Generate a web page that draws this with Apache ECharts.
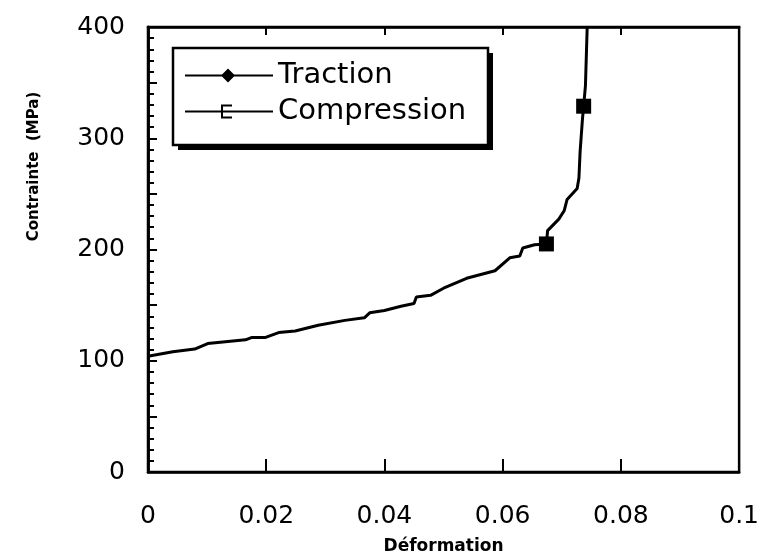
<!DOCTYPE html>
<html>
<head>
<meta charset="utf-8">
<script src="https://cdn.jsdelivr.net/npm/echarts@6/dist/echarts.min.js"></script>
<style>
  html, body { margin: 0; padding: 0; background: #fff; }
  #chart { width: 762px; height: 560px; }
</style>
</head>
<body>
<div id="chart"></div>
<script>
// Strain (Déformation) / stress (MPa) readings of the compression curve
const strain = [0, 0.0042, 0.0079, 0.0101, 0.0165, 0.0176, 0.0199, 0.0221, 0.0249, 0.0288,
  0.0333, 0.0366, 0.0375, 0.0400, 0.0428, 0.0450, 0.0454, 0.0478, 0.0500, 0.0539,
  0.0587, 0.0612, 0.0629, 0.0634, 0.0654, 0.0674, 0.0676, 0.0695, 0.0704, 0.0709,
  0.0726, 0.0729, 0.0731, 0.0735, 0.0737, 0.0740, 0.0743];
const stress = [104, 108, 110.5, 115.5, 118.8, 121, 121, 125.3, 126.8, 131.9,
  136.3, 138.6, 143.1, 145.2, 149, 151.4, 157.3, 158.8, 165.2, 174.1,
  180.9, 192.5, 194.2, 201.3, 204.3, 205, 217, 227.3, 234.8, 245,
  254.8, 264.3, 288, 317.5, 328.8, 347, 400];
// indices of the plotted square markers
const markerIdx = [25, 34];

const seriesNames = ['Traction', 'Compression'];
const xTicks = [0, 0.02, 0.04, 0.06, 0.08, 0.1];
const yTicks = [0, 100, 200, 300, 400];

const compressionData = strain.map((x, i) => {
  const item = { value: [x, stress[i]] };
  if (markerIdx.includes(i)) {
    item.symbol = 'rect';
    item.symbolSize = 15;
  } else {
    item.symbol = 'none';
  }
  return item;
});

const ink = '#000';
const font = 'DejaVu Sans';
const chart = echarts.init(document.getElementById('chart'), null, { renderer: 'canvas' });

// legend frame with a hard drop shadow
const box = { x: 173, y: 48, w: 315, h: 97, off: 5 };

chart.setOption({
  animation: false,
  backgroundColor: '#fff',
  grid: {
    left: 148, right: 17, top: 27, bottom: 82,
    show: true, borderColor: ink, borderWidth: 2.5, backgroundColor: 'transparent'
  },
  graphic: [{
    type: 'rect', z: 3,
    shape: { x: box.x + box.off, y: box.y + box.off, width: box.w, height: box.h },
    style: { fill: ink }
  }, {
    type: 'rect', z: 3,
    shape: { x: box.x, y: box.y, width: box.w, height: box.h },
    style: { fill: '#fff', stroke: ink, lineWidth: 2.5 }
  }],
  legend: {
    z: 5,
    orient: 'vertical',
    left: 173, top: 48,
    padding: [13, 25, 16, 12],
    itemGap: 7,
    itemWidth: 88, itemHeight: 14,
    selectedMode: false,
    textStyle: { color: ink, fontSize: 29, fontFamily: font },
    data: [
      { name: seriesNames[0], icon: 'path://M0,6L37,6L43,0L49,6L88,6L88,8L49,8L43,14L37,8L0,8Z', itemStyle: { color: ink } },
      { name: seriesNames[1], icon: 'path://M0,6L88,6L88,8L0,8Z M36,0L47,0L47,2L38,2L38,12L47,12L47,14L36,14Z', itemStyle: { color: ink } }
    ]
  },
  xAxis: [{
    type: 'value', min: xTicks[0], max: xTicks[xTicks.length - 1], interval: 0.02,
    position: 'bottom',
    name: 'Déformation', nameLocation: 'middle', nameGap: 66,
    nameTextStyle: { color: ink, fontSize: 17, fontWeight: 'bold', fontFamily: font },
    axisLine: { show: true, onZero: false, lineStyle: { color: ink, width: 2.5 } },
    axisTick: { show: true, inside: true, length: 13, lineStyle: { color: ink, width: 2 } },
    axisLabel: {
      color: ink, fontSize: 25, fontFamily: font, margin: 32,
      formatter: v => xTicks.includes(+v.toFixed(2)) ? String(+v.toFixed(2)) : ''
    },
    splitLine: { show: false }
  }, {
    type: 'value', min: xTicks[0], max: xTicks[xTicks.length - 1], interval: 0.02,
    position: 'top',
    axisLine: { show: true, onZero: false, lineStyle: { color: ink, width: 2.5 } },
    axisTick: { show: true, inside: true, length: 8, lineStyle: { color: ink, width: 2 } },
    axisLabel: { show: false },
    splitLine: { show: false }
  }],
  yAxis: [{
    type: 'value', min: yTicks[0], max: yTicks[yTicks.length - 1], interval: 50,
    position: 'left',
    name: 'Contrainte  (MPa)', nameLocation: 'middle', nameGap: 106,
    nameTextStyle: {
      color: ink, fontSize: 15, fontWeight: 'bold', fontFamily: font,
      padding: [0, 0, 0, 166]
    },
    axisLine: { show: true, onZero: false, lineStyle: { color: ink, width: 2.5 } },
    axisTick: { show: true, inside: true, length: 9, lineStyle: { color: ink, width: 2 } },
    axisLabel: {
      color: ink, fontSize: 25, fontFamily: font, margin: 23,
      formatter: v => yTicks.includes(v) ? String(v) : ''
    },
    splitLine: { show: false }
  }, {
    // fine 10 MPa graduations
    type: 'value', min: yTicks[0], max: yTicks[yTicks.length - 1], interval: 10,
    position: 'left', offset: 0,
    axisLine: { show: true, onZero: false, lineStyle: { color: ink, width: 2.5 } },
    axisTick: { show: true, inside: true, length: 6, lineStyle: { color: ink, width: 2 } },
    axisLabel: { show: false },
    splitLine: { show: false }
  }],
  series: [{
    name: seriesNames[0],
    type: 'line',
    data: [],
    symbol: 'diamond',
    itemStyle: { color: ink },
    lineStyle: { color: ink, width: 2 }
  }, {
    name: seriesNames[1],
    type: 'line',
    data: compressionData,
    showSymbol: true,
    symbol: 'none',
    clip: true,
    itemStyle: { color: ink },
    lineStyle: { color: ink, width: 3 }
  }]
});
</script>
</body>
</html>
